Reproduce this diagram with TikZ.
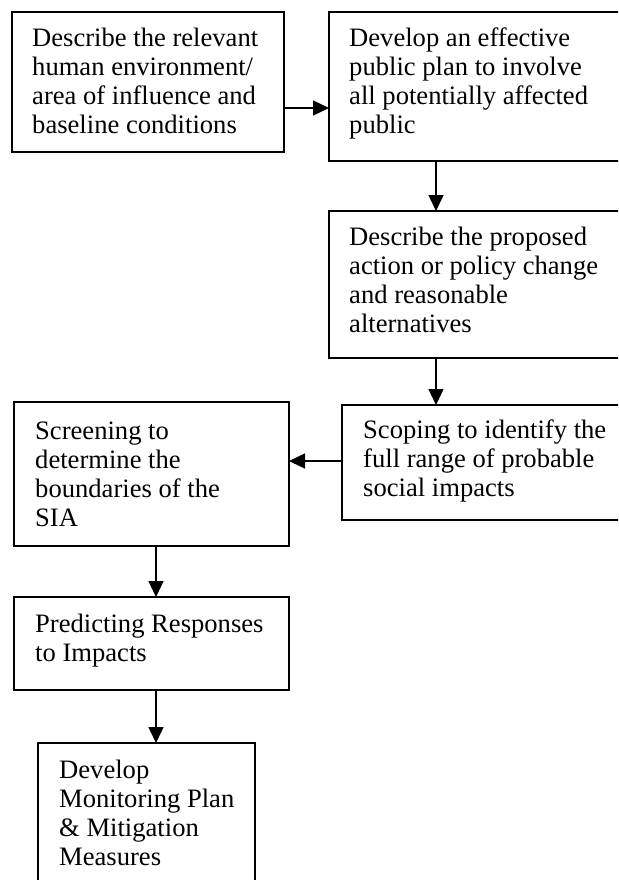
\documentclass[tikz,border=0pt]{standalone}
\usepackage{fontspec}
\setmainfont{Liberation Serif}
\usetikzlibrary{arrows.meta}
\begin{document}
\begin{tikzpicture}[x=1pt,y=-1pt,
  box/.style={draw, line width=1.3pt, rectangle, inner sep=0pt, outer sep=0pt, anchor=north west},
  txt/.style={anchor=base west, inner sep=0pt, font=\fontsize{26.6}{29}\selectfont},
  arr/.style={line width=1.5pt, -{Triangle[length=16pt,width=15pt]}}]
\useasboundingbox (0,0) rectangle (618,880);
\fill[white] (0,0) rectangle (618,880);
\clip (0,0) rectangle (618,880);
% boxes
\node[box, line width=2pt, minimum width=272pt, minimum height=140pt] (b1) at (12,12) {};
\node[box, minimum width=311pt, minimum height=149pt] (b2) at (329,12) {};
\node[box, minimum width=311pt, minimum height=147pt] (b3) at (329,211) {};
\node[box, minimum width=298pt, minimum height=115pt] (b4) at (342,405) {};
\node[box, line width=1.6pt, minimum width=275pt, minimum height=144pt] (b5) at (14,402) {};
\node[box, line width=1.6pt, minimum width=275pt, minimum height=93pt] (b6) at (14,597) {};
\node[box, minimum width=217pt, minimum height=160pt] (b7) at (38,743) {};
% texts
\node[txt] (t1) at (32,47) {\begin{tabular}[t]{@{}l@{}}Describe the relevant\\human environment/\\area of influence and\\baseline conditions\end{tabular}};
\node[txt] (t2) at (349,47) {\begin{tabular}[t]{@{}l@{}}Develop an effective\\public plan to involve\\all potentially affected\\public\end{tabular}};
\node[txt] (t3) at (349,245) {\begin{tabular}[t]{@{}l@{}}Describe the proposed\\action or policy change\\and reasonable\\alternatives\end{tabular}};
\node[txt] (t4) at (363,438) {\begin{tabular}[t]{@{}l@{}}Scoping to identify the\\full range of probable\\social impacts\end{tabular}};
\node[txt] (t5) at (35,439) {\begin{tabular}[t]{@{}l@{}}Screening to\\determine the\\boundaries of the\\SIA\end{tabular}};
\node[txt] (t6) at (35,632) {\begin{tabular}[t]{@{}l@{}}Predicting Responses\\to Impacts\end{tabular}};
\node[txt] (t7) at (59,778) {\begin{tabular}[t]{@{}l@{}}Develop\\Monitoring Plan\\\&\ Mitigation\\Measures\end{tabular}};
% connector start points
\coordinate (s1) at ([yshift=-26pt]b1.east);
\coordinate (s2) at ([xshift=107pt]b2.south west);
\coordinate (s3) at ([xshift=107pt]b3.south west);
\coordinate (s4) at ([yshift=1.5pt]b4.west);
\coordinate (s5) at ([xshift=4.5pt]b5.south);
\coordinate (s6) at ([xshift=4.5pt]b6.south);
% connectors
\draw[arr] (s1) -- (s1 -| b2.west);
\draw[arr] (s2) -- (s2 |- b3.north);
\draw[arr] (s3) -- (s3 |- b4.north);
\draw[arr] (s4) -- (s4 -| b5.east);
\draw[arr] (s5) -- (s5 |- b6.north);
\draw[arr] (s6) -- (s6 |- b7.north);
\end{tikzpicture}
\end{document}
